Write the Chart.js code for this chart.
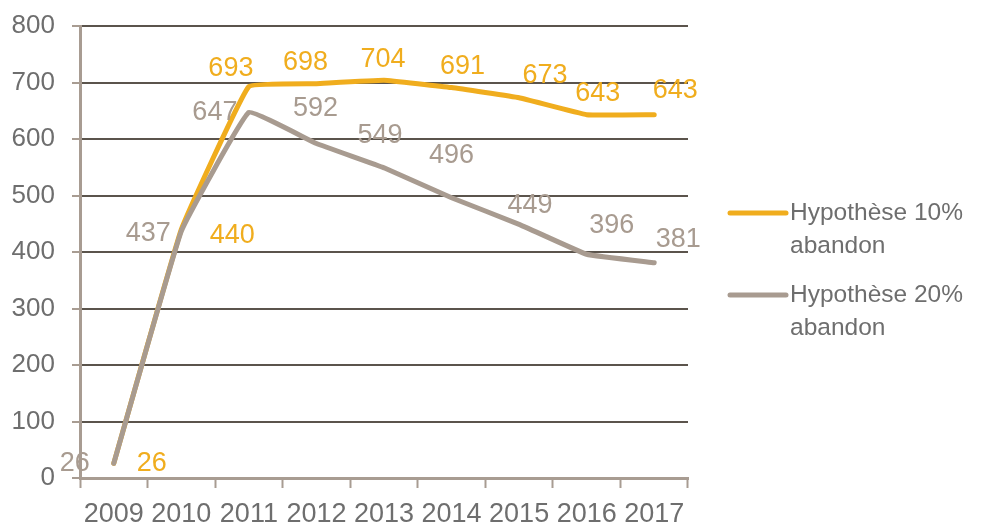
<!DOCTYPE html>
<html>
<head>
<meta charset="utf-8">
<script src="https://cdn.jsdelivr.net/npm/chart.js@4/dist/chart.umd.min.js"></script>
<style>
    html, body { margin: 0; padding: 0; background: #fff; }
    #wrap { position: relative; width: 988px; height: 524px; }
</style>
</head>
<body>
<div id="wrap"><canvas id="chart"></canvas></div>
<script>
// --- data
var years = ['2009', '2010', '2011', '2012', '2013', '2014', '2015', '2016', '2017'];
var abandon10 = [26, 440, 693, 698, 704, 691, 673, 643, 643];
var abandon20 = [26, 437, 647, 592, 549, 496, 449, 396, 381];
var seriesNames = [['Hypothèse 10%', 'abandon'], ['Hypothèse 20%', 'abandon']];
var yTicks = [0, 100, 200, 300, 400, 500, 600, 700, 800];

// --- styles
var ORANGE = '#f0ad1e';
var GREY = '#a89b90';
var GRID = '#5b544c';
var AXIS = '#a89c92';
var TEXT = '#6e6e6e';
var FONT = '"Liberation Sans", Arial, sans-serif';

// nudges for the value labels (px from the point), like the moved labels in the source
var nudge10 = [[38, 0], [51, 6], [-18, -18], [-11, -21], [-1, -21], [11, -21], [26, -22], [11, -21], [21, -24]];
var nudge20 = [[-39, 0], [-33, 2], [-34, 0], [-1, -35], [-4, -32], [0, -42], [11, -19], [25, -29], [24, -23]];

var valueLabels = {
    id: 'valueLabels',
    afterDatasetsDraw: function (chart) {
        var ctx = chart.ctx;
        ctx.save();
        ctx.font = '27px ' + FONT;
        ctx.textAlign = 'center';
        ctx.textBaseline = 'middle';
        chart.data.datasets.forEach(function (ds, di) {
            var meta = chart.getDatasetMeta(di);
            meta.data.forEach(function (pt, i) {
                var n = ds.nudge[i];
                ctx.fillStyle = ds.borderColor;
                ctx.fillText(String(ds.data[i]), pt.x + n[0], pt.y + n[1]);
            });
        });
        ctx.restore();
    }
};

var sideLegend = {
    id: 'sideLegend',
    afterDraw: function (chart) {
        var ctx = chart.ctx;
        var items = [[ORANGE, seriesNames[0], 213], [GREY, seriesNames[1], 295]];
        ctx.save();
        ctx.font = '24.5px ' + FONT;
        ctx.textBaseline = 'middle';
        ctx.textAlign = 'left';
        items.forEach(function (it) {
            ctx.strokeStyle = it[0];
            ctx.lineWidth = 5;
            ctx.lineCap = 'round';
            ctx.beginPath();
            ctx.moveTo(730, it[2]);
            ctx.lineTo(786, it[2]);
            ctx.stroke();
            ctx.fillStyle = TEXT;
            ctx.fillText(it[1][0], 790, it[2]);
            ctx.fillText(it[1][1], 790, it[2] + 33);
        });
        ctx.restore();
    }
};

function createChart() {
    var ctx = document.getElementById('chart');
    new Chart(ctx, {
        type: 'line',
        data: {
            labels: years,
            datasets: [{
                label: seriesNames[1].join(' '),
                data: abandon20,
                nudge: nudge20,
                borderColor: GREY,
                borderWidth: 5,
                borderCapStyle: 'round',
                pointRadius: 0,
                tension: 0.08,
                order: 0
            }, {
                label: seriesNames[0].join(' '),
                data: abandon10,
                nudge: nudge10,
                borderColor: ORANGE,
                borderWidth: 5,
                borderCapStyle: 'round',
                pointRadius: 0,
                tension: 0.08,
                order: 1
            }]
        },
        options: {
            responsive: false,
            animation: false,
            devicePixelRatio: 1,
            layout: { padding: { top: 26, right: 300, left: 0, bottom: 0 } },
            plugins: {
                legend: { display: false },
                tooltip: { enabled: false }
            },
            scales: {
                x: {
                    offset: true,
                    grid: {
                        offset: true,
                        drawOnChartArea: false,
                        drawTicks: true,
                        tickLength: 10,
                        tickColor: AXIS,
                        tickWidth: 2
                    },
                    border: { color: AXIS, width: 3 },
                    ticks: { color: TEXT, font: { family: FONT, size: 27 }, padding: 10, maxRotation: 0, autoSkip: false },
                    afterFit: function (scale) {
                        scale.height = 46;
                        scale.paddingLeft = 0;
                        scale.paddingRight = 0;
                    }
                },
                y: {
                    min: 0,
                    max: 800,
                    afterBuildTicks: function (scale) {
                        scale.ticks = yTicks.map(function (v) { return { value: v }; });
                    },
                    grid: {
                        color: function (c) { return c.tick && c.tick.value === 0 ? 'rgba(0,0,0,0)' : GRID; },
                        lineWidth: 2,
                        tickLength: 8,
                        tickColor: AXIS,
                        tickWidth: 2
                    },
                    border: { color: AXIS, width: 3 },
                    ticks: { color: TEXT, font: { family: FONT, size: 26 }, padding: 17 },
                    afterFit: function (scale) {
                        scale.width = 80;
                        scale.paddingTop = 0;
                        scale.paddingBottom = 0;
                    }
                }
            }
        },
        plugins: [valueLabels, sideLegend]
    });
}

document.getElementById('chart').width = 988;
document.getElementById('chart').height = 524;
createChart();
</script>
</body>
</html>
